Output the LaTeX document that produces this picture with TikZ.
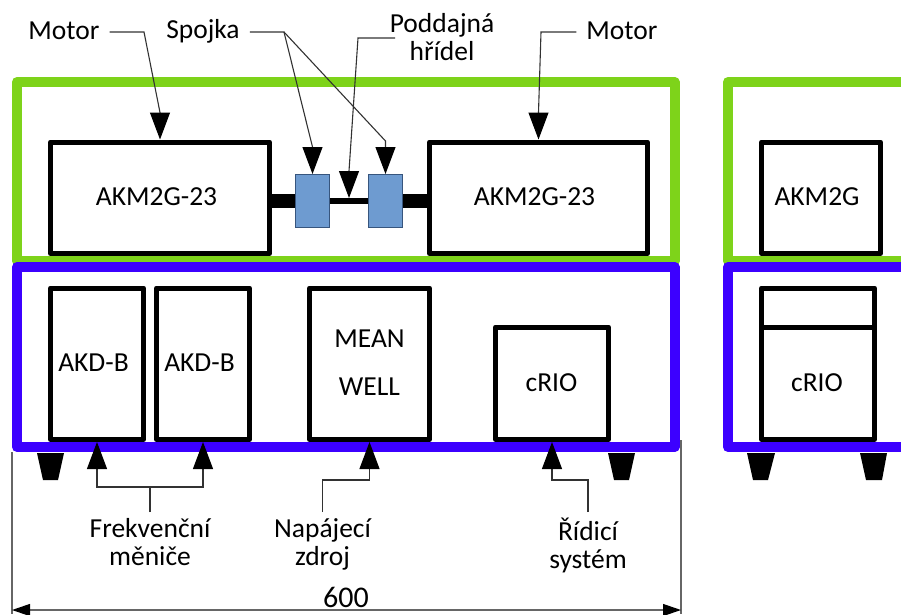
\documentclass[tikz,border=0pt]{standalone}
\usepackage{fontspec}
\setmainfont{Carlito}
\usetikzlibrary{calc}
\usetikzlibrary{positioning}
\usetikzlibrary{arrows.meta}
\definecolor{framegreen}{RGB}{126,211,26}
\definecolor{frameblue}{RGB}{60,0,255}
\definecolor{couplingblue}{RGB}{110,155,208}
\definecolor{couplingedge}{RGB}{55,85,125}
\definecolor{leadergray}{RGB}{50,50,50}
\tikzset{
  greenframe/.style={draw=framegreen,line width=10pt,line join=round},
  blueframe/.style={draw=frameblue,line width=10pt,line join=round},
  unit/.style={draw=black,line width=5pt,line join=round,fill=white,inner sep=0pt,outer sep=2.5pt},
  coupling/.style={draw=couplingedge,line width=1pt,fill=couplingblue,inner sep=0pt,minimum width=34pt,minimum height=53pt},
  shaft/.style={fill=black,inner sep=0pt,outer sep=0pt},
  foot/.style={fill=black,line join=round},
  txt/.style={font=\fontsize{27.5}{28}\selectfont,align=center,inner xsep=10pt,inner ysep=6pt},
  leader/.style={draw=leadergray,line width=1.1pt},
  pointer/.style={leader,-{Triangle[length=27pt,width=20pt,black]}},
  dimline/.style={draw=gray!80!black,line width=1.2pt},
  dimarrow/.style={dimline,{Triangle[length=18pt,width=12pt,black]}-{Triangle[length=18pt,width=12pt,black]}}
}
\begin{document}
\begin{tikzpicture}[x=1pt,y=-1pt]
      \useasboundingbox (0,0) rectangle (901,614);
      \clip (0,0) rectangle (901,614);

      \draw[greenframe] (17,82) rectangle (674.5,261);
      \draw[greenframe] (728,82) rectangle (930,261);

      \node[unit,minimum width=219pt,minimum height=111.5pt] (akmL) at (160,197.75) {};
      \node[unit,minimum width=218pt,minimum height=111.5pt] (akmR) at (538.5,197.75) {};
      \node[unit,minimum width=119pt,minimum height=111.5pt] (akmS) at (821,197.75) {};

      \node[shaft,minimum width=24pt,minimum height=14pt] (shaftL) at (284,201) {};
      \node[shaft,minimum width=24pt,minimum height=14pt] (shaftR) at (415,201) {};
      \node[shaft,minimum width=39pt,minimum height=6pt] (shaftM) at (349,201) {};
      \node[coupling] (cplL) at (312.5,201) {};
      \node[coupling] (cplR) at (385.5,201) {};

      \draw[blueframe] (17,267) rectangle (674.5,447);
      \draw[blueframe] (728,267) rectangle (930,447);

      \node[unit,minimum width=93pt,minimum height=151.5pt] (akdA) at (97,363.75) {};
      \node[unit,minimum width=93pt,minimum height=151.5pt] (akdB) at (203,363.75) {};
      \node[unit,minimum width=120pt,minimum height=151.5pt] (mw) at (369.5,363.75) {};
      \node[unit,minimum width=113pt,minimum height=112.5pt] (crioL) at (552,383.25) {};
      \node[unit,minimum width=113pt,minimum height=39pt] (psuS) at (818,307.5) {};
      \node[unit,minimum width=113pt,minimum height=112.5pt] (crioS) at (818,383.25) {};

      \fill[foot] (37,453) -- (64,453) -- (58,480) -- (43,480) -- cycle;
      \fill[foot] (608,453) -- (635,453) -- (629,480) -- (614,480) -- cycle;
      \fill[foot] (747,453) -- (775,453) -- (768,480) -- (753,480) -- cycle;
      \fill[foot] (860,453) -- (887,453) -- (882,480) -- (866,480) -- cycle;

      \node[txt] (txtAkmL) at (156.5,197) {AKM2G-23};
      \node[txt] (txtAkmR) at (534.5,197) {AKM2G-23};
      \node[txt] (txtAkmS) at (817,197) {AKM2G};
      \node[txt] (txtAkdA) at (93.5,363) {AKD-B};
      \node[txt] (txtAkdB) at (199.5,363) {AKD-B};
      \node[txt] (txtMean) at (369.5,339) {MEAN};
      \node[txt] (txtWell) at (369.5,387) {WELL};
      \node[txt] (txtCrioL) at (551.5,383) {cRIO};
      \node[txt] (txtCrioS) at (817,383) {cRIO};

      \node[txt] (lblMotorL) at (64,31) {Motor};
      \node[txt] (lblSpojka) at (203,31) {Spojka};
      \node[txt] (lblHridel) at (442,37) {Poddajná\\hřídel};
      \node[txt] (lblMotorR) at (622,31) {Motor};
      \node[txt,anchor=north] (lblFrek) at (150,512) {Frekvenční\\měniče};
      \node[txt,anchor=north] (lblNapajeci) at (322.5,512) {Napájecí\\zdroj};
      \node[txt,anchor=north] (lblRidici) at (588,512) {Řídicí\\systém};
      \node[txt,font=\fontsize{30}{30}\selectfont] (lblDim) at (346,597) {600};

      \coordinate (kneeMotorL) at (144,32);
      \coordinate (kneeSpojka) at (284,32);
      \coordinate (kneeCplR) at (385.5,141);
      \coordinate (kneeHridel) at (358,38);
      \coordinate (endHridel) at (395,38);
      \coordinate (kneeMotorR) at (541,32);
      \coordinate (kneeFrekA) at (97,487);
      \coordinate (kneeFrekB) at (203,487);
      \coordinate (kneeNapajeci) at (369.5,480);
      \coordinate (kneeRidici) at (552,480);
      \coordinate (dimL) at (12,610);
      \coordinate (dimR) at (681,610);

      \draw[pointer] (lblMotorL.east |- kneeMotorL) -- (kneeMotorL) -- ($(akmL.north)+(0,-27)$) -- (akmL.north);
      \draw[pointer] (lblSpojka.east |- kneeSpojka) -- (kneeSpojka) -- ($(cplL.north)+(0,-27)$) -- (cplL.north);
      \draw[pointer] (kneeSpojka) -- (kneeCplR) -- (cplR.north);
      \draw[pointer] (endHridel) -- (kneeHridel) -- ($(shaftM.north)+(0,-27)$) -- (shaftM.north);
      \draw[pointer] (lblMotorR.west |- kneeMotorR) -- (kneeMotorR) -- ($(akmR.north)+(0,-27)$) -- (akmR.north);
      \draw[pointer] (lblFrek.north) |- (kneeFrekA) -- (akdA.south);
      \draw[pointer] (lblFrek.north) |- (kneeFrekB) -- (akdB.south);
      \draw[pointer] (lblNapajeci.north) |- (kneeNapajeci) -- (mw.south);
      \draw[pointer] (lblRidici.north) |- (kneeRidici) -- (crioL.south);

      \draw[dimline] (12,452) -- (dimL |- 0,614);
      \draw[dimline] (681,440) -- (dimR |- 0,614);
      \draw[dimarrow] (dimL) -- (dimR);
    \end{tikzpicture}
\end{document}
